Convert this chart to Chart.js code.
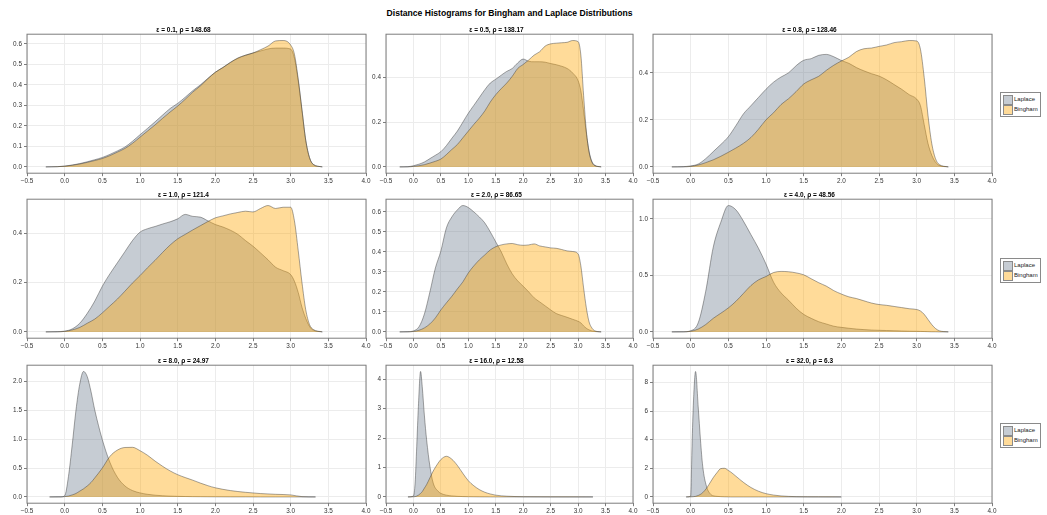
<!DOCTYPE html>
<html>
<head>
<meta charset="utf-8">
<script src="https://cdn.jsdelivr.net/npm/chart.js@4.4.1/dist/chart.umd.min.js"></script>
<style>
  body { margin: 0; background: #fff; width: 1047px; height: 515px; position: relative; overflow: hidden;
         font-family: "Liberation Sans", Arial, sans-serif; }
  canvas { position: absolute; }
  #title { position: absolute; left: 0; width: 1019px; top: 8px; text-align: center;
           font-weight: bold; font-size: 8.6px; line-height: 10px; color: #000; }
  .legend { position: absolute; left: 1000px; width: 39px; height: 23px; border: 1px solid #8a8a8a; background: #fff; }
  .legend .row { position: absolute; left: 2px; height: 9px; font-size: 6px; line-height: 9px; color: #222; }
  .legend .sw { position: absolute; left: 0; top: 0; width: 8px; height: 8px; border: 0.5px solid #8a8a8a; }
  .legend .lb { position: absolute; left: 11px; top: 0; white-space: nowrap; }
</style>
</head>
<body>
<div id="title">Distance Histograms for Bingham and Laplace Distributions</div>
<script>
// 共用 x 網格（前六張圖）
const G = [-0.25, -0.1, 0.0, 0.1, 0.2, 0.3, 0.4, 0.5, 0.6, 0.7, 0.8, 0.9, 1.0, 1.1, 1.2, 1.3, 1.4, 1.5, 1.6, 1.7,
  1.8, 1.9, 2.0, 2.1, 2.2, 2.3, 2.4, 2.5, 2.6, 2.7, 2.8, 2.9, 3.0, 3.05, 3.1, 3.15, 3.2, 3.25, 3.3, 3.42];
const X7 = [-0.2, -0.05, 0, 0.05, 0.1, 0.15, 0.2, 0.25, 0.3, 0.35, 0.4, 0.5, 0.6, 0.7, 0.8, 0.9, 1.0, 1.1, 1.2, 1.3,
  1.4, 1.5, 1.6, 1.7, 1.8, 1.9, 2.0, 2.2, 2.4, 2.6, 2.8, 3.0, 3.15, 3.33];
const X8 = [-0.1, 0, 0.03, 0.06, 0.09, 0.13, 0.16, 0.2, 0.24, 0.3, 0.36, 0.45, 0.5, 0.6, 0.7, 0.8, 0.9, 1.0, 1.1,
  1.2, 1.3, 1.4, 1.5, 1.7, 2.0, 2.5, 3.27];
const X9 = [-0.06, 0, 0.02, 0.04, 0.065, 0.1, 0.13, 0.16, 0.21, 0.27, 0.3, 0.35, 0.4, 0.45, 0.5, 0.53, 0.6, 0.7, 0.8,
  0.9, 1.0, 1.1, 1.2, 1.4, 1.7, 2.0];

// ε = 0.1
const lap1 = [0, 0.001, 0.004, 0.009, 0.016, 0.025, 0.035, 0.046, 0.061, 0.078, 0.097, 0.125, 0.157, 0.188, 0.22, 0.253,
  0.285, 0.31, 0.34, 0.372, 0.4, 0.432, 0.462, 0.485, 0.51, 0.53, 0.545, 0.556, 0.566, 0.576, 0.58, 0.58, 0.575, 0.53,
  0.42, 0.275, 0.13, 0.045, 0.012, 0];
const bing1 = [0, 0.001, 0.003, 0.008, 0.014, 0.022, 0.031, 0.041, 0.055, 0.072, 0.09, 0.115, 0.145, 0.175, 0.205, 0.237,
  0.268, 0.297, 0.33, 0.365, 0.395, 0.43, 0.462, 0.485, 0.51, 0.532, 0.545, 0.556, 0.572, 0.59, 0.615, 0.617, 0.595, 0.55,
  0.43, 0.28, 0.13, 0.045, 0.012, 0];
// ε = 0.5
const lap2 = [0, 0.001, 0.005, 0.012, 0.022, 0.037, 0.052, 0.068, 0.095, 0.128, 0.16, 0.2, 0.24, 0.275, 0.31, 0.345,
  0.375, 0.392, 0.41, 0.427, 0.44, 0.465, 0.482, 0.472, 0.47, 0.47, 0.468, 0.462, 0.457, 0.45, 0.44, 0.42, 0.385, 0.34,
  0.25, 0.15, 0.07, 0.025, 0.008, 0];
const bing2 = [0, 0, 0.002, 0.005, 0.01, 0.017, 0.025, 0.035, 0.055, 0.078, 0.1, 0.13, 0.16, 0.19, 0.218, 0.25, 0.29,
  0.323, 0.35, 0.375, 0.405, 0.44, 0.458, 0.478, 0.5, 0.515, 0.54, 0.55, 0.553, 0.555, 0.557, 0.565, 0.56, 0.5, 0.32,
  0.16, 0.065, 0.022, 0.006, 0];
// ε = 0.8
const lap3 = [0, 0.001, 0.004, 0.012, 0.035, 0.065, 0.095, 0.128, 0.175, 0.225, 0.26, 0.295, 0.33, 0.36, 0.382, 0.4,
  0.43, 0.453, 0.46, 0.474, 0.478, 0.468, 0.452, 0.44, 0.422, 0.408, 0.396, 0.386, 0.37, 0.35, 0.33, 0.307, 0.288, 0.26,
  0.18, 0.1, 0.05, 0.02, 0.006, 0];
const bing3 = [0, 0, 0.002, 0.008, 0.018, 0.03, 0.045, 0.062, 0.08, 0.1, 0.125, 0.16, 0.2, 0.23, 0.265, 0.29, 0.32,
  0.352, 0.37, 0.385, 0.41, 0.432, 0.45, 0.466, 0.49, 0.502, 0.505, 0.512, 0.518, 0.528, 0.532, 0.537, 0.535, 0.5, 0.38,
  0.22, 0.1, 0.035, 0.01, 0];
// ε = 1.0
const lap4 = [0, 0.001, 0.003, 0.012, 0.035, 0.075, 0.125, 0.185, 0.235, 0.28, 0.325, 0.37, 0.404, 0.418, 0.427, 0.437,
  0.446, 0.458, 0.476, 0.468, 0.465, 0.45, 0.435, 0.425, 0.412, 0.395, 0.37, 0.347, 0.32, 0.292, 0.262, 0.248, 0.232,
  0.205, 0.16, 0.1, 0.055, 0.022, 0.007, 0];
const bing4 = [0, 0, 0.002, 0.008, 0.018, 0.035, 0.052, 0.077, 0.105, 0.133, 0.165, 0.198, 0.228, 0.26, 0.29, 0.322,
  0.352, 0.377, 0.395, 0.413, 0.43, 0.447, 0.462, 0.47, 0.478, 0.484, 0.489, 0.486, 0.5, 0.512, 0.5, 0.505, 0.505, 0.45,
  0.33, 0.2, 0.09, 0.03, 0.01, 0];
// ε = 2.0
const lap5 = [0, 0.001, 0.005, 0.025, 0.09, 0.2, 0.32, 0.405, 0.52, 0.575, 0.61, 0.632, 0.622, 0.6, 0.575, 0.545, 0.5,
  0.45, 0.4, 0.34, 0.29, 0.255, 0.228, 0.2, 0.17, 0.15, 0.13, 0.11, 0.092, 0.082, 0.073, 0.063, 0.053, 0.045, 0.03,
  0.018, 0.01, 0.005, 0.002, 0];
const bing5 = [0, 0, 0.002, 0.008, 0.02, 0.04, 0.07, 0.11, 0.145, 0.178, 0.215, 0.25, 0.295, 0.33, 0.36, 0.385, 0.41,
  0.426, 0.435, 0.44, 0.442, 0.436, 0.433, 0.435, 0.44, 0.43, 0.425, 0.42, 0.418, 0.412, 0.405, 0.402, 0.39, 0.33, 0.22,
  0.12, 0.05, 0.02, 0.006, 0];
// ε = 4.0
const lap6 = [0, 0.001, 0.01, 0.08, 0.36, 0.75, 0.97, 1.118, 1.08, 0.98, 0.86, 0.74, 0.6, 0.44, 0.345, 0.28, 0.21,
  0.155, 0.12, 0.09, 0.07, 0.05, 0.04, 0.032, 0.025, 0.02, 0.016, 0.014, 0.012, 0.01, 0.008, 0.006, 0.005, 0.004,
  0.003, 0.002, 0.001, 0.001, 0, 0];
const bing6 = [0, 0, 0.005, 0.025, 0.065, 0.12, 0.165, 0.212, 0.27, 0.34, 0.41, 0.46, 0.49, 0.525, 0.535, 0.532,
  0.522, 0.505, 0.47, 0.435, 0.405, 0.365, 0.335, 0.31, 0.295, 0.275, 0.255, 0.242, 0.235, 0.225, 0.215, 0.205, 0.198,
  0.185, 0.155, 0.11, 0.065, 0.03, 0.01, 0];
// ε = 8.0
const lap7 = [0, 0.002, 0.02, 0.35, 0.9, 1.5, 1.95, 2.17, 2.08, 1.82, 1.5, 0.99, 0.6, 0.34, 0.19, 0.11, 0.07, 0.045,
  0.03, 0.02, 0.014, 0.01, 0.007, 0.005, 0.004, 0.003, 0.002, 0.001, 0.001, 0, 0, 0, 0, 0];
const bing7 = [0, 0, 0.005, 0.015, 0.035, 0.06, 0.1, 0.14, 0.19, 0.25, 0.33, 0.5, 0.7, 0.81, 0.855, 0.858, 0.8, 0.72,
  0.62, 0.53, 0.45, 0.385, 0.335, 0.29, 0.24, 0.195, 0.158, 0.11, 0.08, 0.058, 0.045, 0.035, 0.005, 0];
// ε = 16.0
const lap8 = [0, 0.03, 0.47, 1.72, 3.07, 4.26, 3.75, 2.75, 1.94, 1.04, 0.47, 0.19, 0.12, 0.06, 0.035, 0.02, 0.012,
  0.008, 0.005, 0.003, 0.002, 0.001, 0, 0, 0, 0, 0];
const bing8 = [0, 0.005, 0.01, 0.03, 0.06, 0.12, 0.18, 0.3, 0.42, 0.65, 0.88, 1.15, 1.27, 1.38, 1.28, 1.07, 0.8, 0.55,
  0.38, 0.25, 0.16, 0.1, 0.06, 0.025, 0.008, 0.002, 0];
// ε = 32.0
const lap9 = [0, 0.05, 4.0, 7.0, 8.77, 6.3, 4.0, 2.14, 0.74, 0.16, 0.08, 0.04, 0.02, 0.01, 0.004, 0, 0, 0, 0, 0, 0, 0,
  0, 0, 0, 0];
const bing9 = [0, 0.005, 0.01, 0.02, 0.04, 0.1, 0.18, 0.3, 0.6, 1.1, 1.35, 1.7, 1.98, 2.0, 1.85, 1.75, 1.45, 1.02, 0.66,
  0.4, 0.23, 0.13, 0.07, 0.02, 0.005, 0];

const TITLES = ['ε = 0.1, ρ = 148.68', 'ε = 0.5, ρ = 138.17', 'ε = 0.8, ρ = 128.46',
  'ε = 1.0, ρ = 121.4', 'ε = 2.0, ρ = 86.65', 'ε = 4.0, ρ = 48.56',
  'ε = 8.0, ρ = 24.97', 'ε = 16.0, ρ = 12.58', 'ε = 32.0, ρ = 6.3'];
const X_TICKS = [-0.5, 0.0, 0.5, 1.0, 1.5, 2.0, 2.5, 3.0, 3.5, 4.0];
const Y_TICKS = [
  [0, 0.1, 0.2, 0.3, 0.4, 0.5, 0.6], [0, 0.2, 0.4], [0, 0.2, 0.4],
  [0, 0.2, 0.4], [0, 0.1, 0.2, 0.3, 0.4, 0.5, 0.6], [0, 0.5, 1.0],
  [0, 0.5, 1.0, 1.5, 2.0], [0, 1, 2, 3, 4], [0, 2, 4, 6, 8],
];
const Y_DECIMALS = [1, 1, 1, 1, 1, 1, 1, 0, 0];
const SERIES_LABELS = ['Laplace', 'Bingham'];

const PANELS = [
  { x: G, lap: lap1, bing: bing1 }, { x: G, lap: lap2, bing: bing2 }, { x: G, lap: lap3, bing: bing3 },
  { x: G, lap: lap4, bing: bing4 }, { x: G, lap: lap5, bing: bing5 }, { x: G, lap: lap6, bing: bing6 },
  { x: X7, lap: lap7, bing: bing7 }, { x: X8, lap: lap8, bing: bing8 }, { x: X9, lap: lap9, bing: bing9 },
];

// 版面（繪圖區像素）
const COL_L = [27, 386, 653];
const COL_R = [366, 633, 992];
const ROW_T = [34, 199, 365];
const ROW_B = [173, 338, 503];
const LEGEND_TOP = [92, 258, 423];

const COLORS = {
  lap: { fill: 'rgba(112,128,144,0.4)', swatch: 'rgb(198,204,211)' },
  bing: { fill: 'rgba(255,165,0,0.4)', swatch: 'rgb(255,219,153)' },
  edge: 'rgba(50,50,50,0.55)',
  frame: '#7d7d7d',
  grid: '#ececec',
};

Chart.defaults.font.family = '"Liberation Sans", Arial, sans-serif';
Chart.defaults.color = '#333';

const Y_AXIS_W = 26, X_AXIS_H = 14, PAD_R = 8;
const TITLE_SIZE = 6.5, TITLE_PAD = 0.4;
const TITLE_H = TITLE_SIZE * 1.2 + TITLE_PAD;
const TICK_SIZE = 6.4;

const fmt = (v, d) => (v < 0 ? '−' : '') + Math.abs(v).toFixed(d);

// 四邊框線
const framePlugin = {
  id: 'frame',
  afterDraw(chart) {
    const { ctx, chartArea: a } = chart;
    ctx.save();
    ctx.strokeStyle = COLORS.frame;
    ctx.lineWidth = 1;
    ctx.strokeRect(a.left, a.top, a.right - a.left, a.bottom - a.top);
    ctx.restore();
  },
};

PANELS.forEach((p, i) => {
  const r = Math.floor(i / 3), c = i % 3;
  const L = COL_L[c], R = COL_R[c], T = ROW_T[r], B = ROW_B[r];
  const cv = document.createElement('canvas');
  const w = (R - L) + Y_AXIS_W + PAD_R;
  const h = (B - T) + TITLE_H + X_AXIS_H;
  cv.width = Math.ceil(w);
  cv.height = Math.ceil(h);
  cv.style.left = (L - Y_AXIS_W) + 'px';
  cv.style.top = (T - TITLE_H) + 'px';
  document.body.appendChild(cv);

  const allY = p.lap.concat(p.bing);
  const yMax = Math.max(...allY);
  const margin = 0.05 * yMax;

  const mk = (label, ys, fill, order) => ({
    label,
    data: p.x.map((x, k) => ({ x, y: ys[k] })),
    backgroundColor: fill,
    borderColor: COLORS.edge,
    borderWidth: 0.8,
    fill: 'origin',
    pointRadius: 0,
    cubicInterpolationMode: 'monotone',
    order,
  });

  new Chart(cv, {
    type: 'line',
    data: {
      datasets: [
        mk(SERIES_LABELS[0], p.lap, COLORS.lap.fill, 1),
        mk(SERIES_LABELS[1], p.bing, COLORS.bing.fill, 0),
      ],
    },
    options: {
      responsive: false,
      animation: false,
      layout: { padding: { left: 0, right: PAD_R + (cv.width - w), top: 0, bottom: cv.height - h } },
      plugins: {
        legend: { display: false },
        tooltip: { enabled: false },
        title: {
          display: true,
          text: TITLES[i],
          color: '#000',
          font: { size: TITLE_SIZE, weight: 'bold', lineHeight: 1.2 },
          padding: { top: 0, bottom: TITLE_PAD },
        },
      },
      scales: {
        x: {
          type: 'linear',
          min: -0.5,
          max: 4.0,
          afterBuildTicks: (s) => { s.ticks = X_TICKS.map((v) => ({ value: v })); },
          afterFit: (s) => { s.height = X_AXIS_H; },
          grid: { color: COLORS.grid, tickColor: COLORS.frame, tickLength: 3, drawTicks: true },
          border: { display: false },
          ticks: {
            autoSkip: false, maxRotation: 0, padding: 1,
            font: { size: TICK_SIZE }, color: '#333',
            callback: (v) => fmt(v, 1),
          },
        },
        y: {
          type: 'linear',
          min: -margin,
          max: yMax + margin,
          afterBuildTicks: (s) => { s.ticks = Y_TICKS[i].map((v) => ({ value: v })); },
          afterFit: (s) => { s.width = Y_AXIS_W; },
          grid: { color: COLORS.grid, tickColor: COLORS.frame, tickLength: 3, drawTicks: true },
          border: { display: false },
          ticks: {
            padding: 2,
            font: { size: TICK_SIZE }, color: '#333',
            callback: (v) => fmt(v, Y_DECIMALS[i]),
          },
        },
      },
    },
    plugins: [framePlugin],
  });
});

// 每列右側圖例
LEGEND_TOP.forEach((top) => {
  const lg = document.createElement('div');
  lg.className = 'legend';
  lg.style.top = top + 'px';
  [['lap', 2], ['bing', 12]].forEach(([key, y], j) => {
    const row = document.createElement('div');
    row.className = 'row';
    row.style.top = y + 'px';
    row.innerHTML = `<div class="sw" style="background:${COLORS[key].swatch}"></div><div class="lb">${SERIES_LABELS[j]}</div>`;
    lg.appendChild(row);
  });
  document.body.appendChild(lg);
});
</script>
</body>
</html>
